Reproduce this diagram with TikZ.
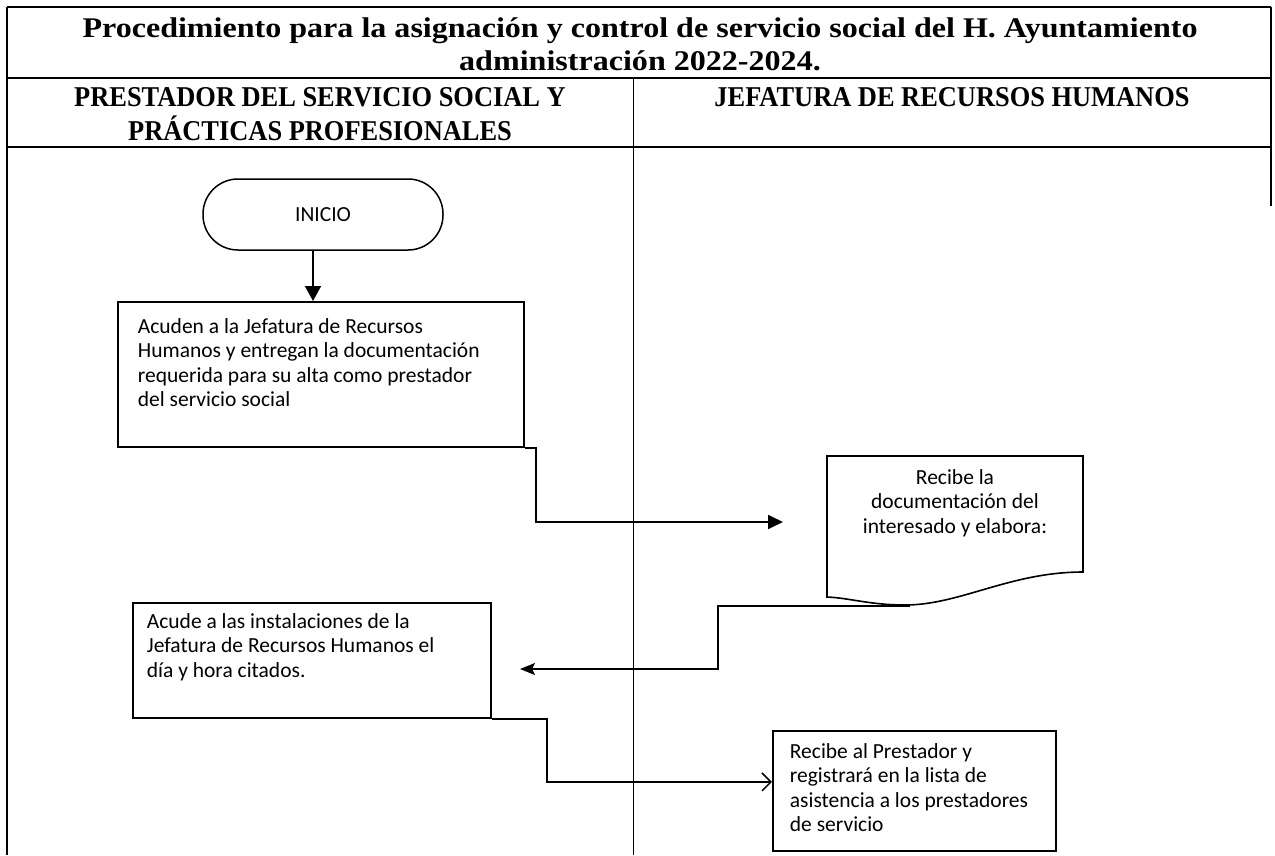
\documentclass[tikz,border=0pt]{standalone}
\usepackage{fontspec}
\setmainfont{Carlito}
\newfontfamily\titlefont[FakeStretch=1.125]{Liberation Serif}
\newfontfamily\headfont[FakeStretch=0.92]{Liberation Serif}
\usetikzlibrary{arrows.meta}

% body text of the process boxes
\newcommand\cuerpo{\fontsize{21.5}{24.5}\selectfont}
% fixed-size text block: width, height, left pad, top pad, lines
\newcommand\cajatexto[5]{%
  \begin{minipage}[t][#2][t]{#1}\raggedright\leftskip=#3\relax
  \vspace*{#4}\strut #5\end{minipage}}

\begin{document}
\begin{tikzpicture}[x=1pt,y=-1pt,
  tabla/.style={line width=1.5pt},
  carril/.style={line width=1pt},
  caja/.style={draw, line width=1.8pt, anchor=north west, inner sep=0pt, font=\cuerpo},
  flecha/.style={line width=1.8pt},
  titulo/.style={font={\titlefont\bfseries\fontsize{28.5}{33}\selectfont}, anchor=base, inner sep=0pt},
  encabezado/.style={font={\headfont\bfseries\fontsize{28.7}{34}\selectfont}, anchor=base, inner sep=0pt}]
\useasboundingbox (0,0) rectangle (1275,855);

% table frame and swimlanes
\draw[tabla] (7,7) -- (1271,7);
\draw[tabla] (7,78) -- (1271,78);
\draw[tabla] (7,147) -- (1271,147);
\draw[tabla] (7,7) -- (7,855);
\draw[tabla] (1271,7) -- (1271,206);
\draw[carril] (633,78) -- (633,855);

\node[titulo] (titulo1) at (640,37) {Procedimiento para la asignación y control de servicio social del H. Ayuntamiento};
\node[titulo] (titulo2) at (640,70) {administración 2022-2024.};
\node[encabezado] (colA1) at (320,106) {PRESTADOR DEL SERVICIO SOCIAL Y};
\node[encabezado] (colA2) at (320,140) {PRÁCTICAS PROFESIONALES};
\node[encabezado] (colB) at (952,106) {JEFATURA DE RECURSOS HUMANOS};

% start terminal
\node[draw, line width=1.5pt, rounded corners=35pt, minimum width=240pt,
      minimum height=71pt, font=\cuerpo] (inicio) at (323,214.5) {INICIO};

% process boxes
\node[caja] (box1) at (117,301) {\cajatexto{406pt}{145pt}{20pt}{14pt}{Acuden a la Jefatura de Recursos\\Humanos y entregan la documentación\\requerida para su alta como prestador\\del servicio social}};
\node[caja] (box2) at (132,602) {\cajatexto{358pt}{115pt}{14pt}{8pt}{Acude a las instalaciones de la\\Jefatura de Recursos Humanos el\\día y hora citados.}};
\node[caja] (box3) at (772,730) {\cajatexto{283pt}{120pt}{17pt}{10pt}{Recibe al Prestador y\\registrará en la lista de\\asistencia a los prestadores\\de servicio}};

% document shape
\draw[line width=1.6pt] (827,456) -- (1083,456) -- (1083,572)
  .. controls (1010,572) and (960,605) .. (905,605)
  .. controls (870,605) and (850,598) .. (827,597) -- cycle;
\node[font=\cuerpo, align=center] (doc) at (955,503) {Recibe la\\documentación del\\interesado y elabora:};
\coordinate (docb) at (910,606);

% connectors
\draw[flecha, -{Triangle[length=15pt,width=16pt]}]
  ([xshift=-10pt]inicio.south) -- ([xshift=-10pt]inicio.south |- box1.north);
\coordinate (t1) at (783,522);
\draw[flecha, -{Triangle[length=15pt,width=14pt]}]
  (box1.south east) -- ++(11,0) |- (t1);
\coordinate (t2) at (520,669);
\draw[flecha, -{Stealth[length=15pt,width=12pt,inset=3pt]}]
  (docb) -- ++(-192,0) |- (t2);
\draw[flecha, line width=1.5pt, -{Straight Barb[length=9pt,width=18pt]}]
  (box2.south east) -- ++(55,0) |- ([yshift=9pt]box3.west);
\end{tikzpicture}
\end{document}
